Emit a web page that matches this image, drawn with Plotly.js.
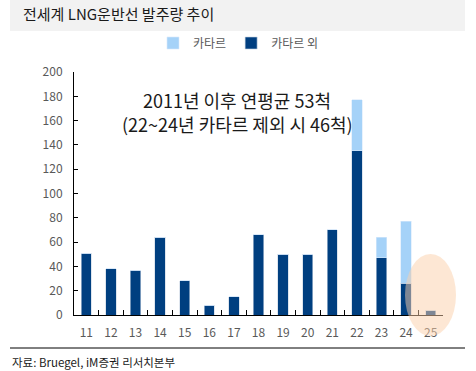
<!DOCTYPE html>
<html><head><meta charset="utf-8">
<script src="https://cdn.plot.ly/plotly-3.0.1.min.js"></script>
<style>html,body{margin:0;padding:0;background:#fff}#c{width:476px;height:371px}</style>
</head><body><div id="c"></div>
<script>
const years = ['11','12','13','14','15','16','17','18','19','20','21','22','23','24','25'];
const nonQatar = [51,38,37,64,28,8,15,66,50,50,70,135,47,26,4];
const qatar = [0,0,0,0,0,0,0,0,0,0,0,42,17,51,0];
const yTicks = [0,20,40,60,80,100,120,140,160,180,200];

const FONT = '"Noto Sans CJK KR", "Noto Sans", sans-serif';
const L=74, R=443, T=72, B=315;
const px = x => (x-L)/(R-L);
const py = y => (B-y)/(B-T);

const traces = [
  {type:'bar', x:years, y:nonQatar, name:'카타르 외', marker:{color:'#003f80', line:{color:'#c8d3e3', width:0.6}}, legendrank:2},
  {type:'bar', x:years, y:qatar, name:'카타르', marker:{color:'#a5d2f8', line:{color:'#d8eafb', width:0.6}}, legendrank:1}
];

const layout = {
  width:476, height:371,
  margin:{l:L, r:476-R, t:T, b:371-B, pad:0},
  paper_bgcolor:'#fff', plot_bgcolor:'#fff',
  barmode:'stack', bargap:0.58,
  font:{family:FONT, color:'#595959', size:12},
  title:{text:'전세계 LNG운반선 발주량 추이', x:23/476, xref:'container', xanchor:'left', y:1-15/371, yref:'container', yanchor:'middle', font:{family:FONT, size:15, color:'#1a1a1a'}},
  showlegend:true,
  legend:{orientation:'h', x:px(153), xanchor:'left', y:py(43), yanchor:'middle', font:{family:FONT, size:12, color:'#595959'}, itemwidth:30, traceorder:'normal', bgcolor:'rgba(0,0,0,0)'},
  xaxis:{type:'category', showline:true, linecolor:'#000', linewidth:1, ticks:'inside', ticklen:5, tickcolor:'#000', tickson:'boundaries', showgrid:false, tickfont:{size:12, color:'#595959'}, ticklabelstandoff:7, fixedrange:true},
  yaxis:{range:[0,200], tickvals:yTicks, showline:true, linecolor:'#000', linewidth:1, ticks:'inside', ticklen:4, tickcolor:'#000', showgrid:false, zeroline:false, tickfont:{size:12, color:'#595959'}, ticklabelstandoff:8},
  shapes:[
    {type:'rect', xref:'paper', yref:'paper', x0:px(10), x1:px(465), y0:py(31), y1:py(0), fillcolor:'#f2f2f2', line:{width:0}, layer:'below'},
    {type:'line', xref:'paper', yref:'paper', x0:px(10), x1:px(465), y0:py(348), y1:py(348), line:{color:'#000', width:1}},
    {type:'circle', xref:'paper', yref:'paper', x0:px(405), x1:px(456), y0:py(336), y1:py(254), fillcolor:'rgba(251,208,170,0.5)', line:{width:0}, layer:'above'}
  ],
  annotations:[
    {text:'2011년 이후 연평균 53척', xref:'paper', yref:'paper', x:px(237), y:py(100), xanchor:'center', yanchor:'middle', showarrow:false, font:{family:FONT, size:18, color:'#1a1a1a'}},
    {text:'(22~24년 카타르 제외 시 46척)', xref:'paper', yref:'paper', x:px(237), y:py(124), xanchor:'center', yanchor:'middle', showarrow:false, font:{family:FONT, size:18, color:'#1a1a1a'}},
    {text:'자료: Bruegel, iM증권 리서치본부', xref:'paper', yref:'paper', x:px(10), y:py(362), xanchor:'left', yanchor:'middle', showarrow:false, font:{family:FONT, size:11.5, color:'#1a1a1a'}}
  ]
};
Plotly.newPlot('c', traces, layout, {staticPlot:true, displayModeBar:false});
</script></body></html>
